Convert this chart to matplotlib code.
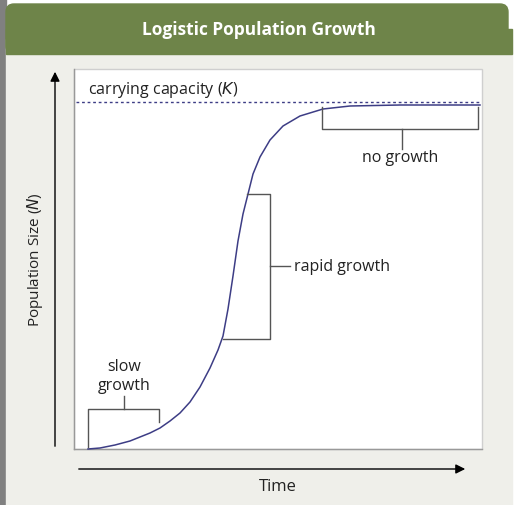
import matplotlib
matplotlib.use("Agg")
import matplotlib.pyplot as plt
from matplotlib.patches import FancyBboxPatch, Rectangle

plt.rcParams['font.family'] = ['Open Sans', 'DejaVu Sans']
title = "Logistic Population Growth"
# curve (pixel coordinates of the reference)
curve_x = [88, 100, 115, 130, 140, 150, 160, 170, 180, 190, 200, 210, 218, 223, 228, 233, 238, 243, 247, 253, 260, 270, 283, 300, 323, 350, 400, 480]
curve_y = [450, 449, 446, 442, 438, 434, 429, 422, 414, 403, 388, 369, 351, 337, 310, 277, 242, 215, 199, 175, 158, 141, 127, 117, 110, 107, 106, 106]
K_y = 103

fig = plt.figure(figsize=(5.14, 5.06), dpi=100)
ax = fig.add_axes([0, 0, 1, 1])
ax.set_xlim(0, 514); ax.set_ylim(506, 0); ax.axis("off")
fig.patch.set_facecolor("white")

ax.add_patch(Rectangle((0, 0), 6, 506, color="#808080", zorder=0))
ax.add_patch(Rectangle((6, 40), 506, 466, color="#efefea", zorder=0))
ax.add_patch(FancyBboxPatch((6, 5), 502, 50, boxstyle="round,pad=0,rounding_size=8", color="#6e8449", zorder=1))
ax.add_patch(Rectangle((6, 30), 506, 25, color="#6e8449", zorder=1))
ax.text(259, 30, title, color="white", fontsize=12.5, fontweight="bold", ha="center", va="center", zorder=2)

ax.add_patch(Rectangle((74, 70), 408, 380, facecolor="white", edgecolor="#cfcfcf", lw=1, zorder=1))
ax.plot([74, 482], [450, 450], color="#999999", lw=1, zorder=2)
ax.plot([74, 74], [70, 450], color="#999999", lw=1, zorder=2)

ax.plot(curve_x, curve_y, color="#3d3d85", lw=1.1, zorder=3, solid_joinstyle="round")
ax.plot([76, 480], [K_y, K_y], color="#3d3d85", lw=1, ls=(0, (2, 2)), zorder=3)
ax.text(88, 90, "carrying capacity ($\\it{K}$)", fontsize=11.5, va="center", color="#222222", zorder=4)

fs = 11.5
bc = "#555555"
def L(xs, ys):
    ax.plot(xs, ys, color=bc, lw=1, zorder=4)
L([88, 88, 159, 159], [448, 410, 410, 423]); L([124, 124], [410, 397])
ax.text(124, 367, "slow", fontsize=fs, ha="center", va="center", color="#222222")
ax.text(124, 386, "growth", fontsize=fs, ha="center", va="center", color="#222222")
L([247, 270, 270, 223], [195, 195, 340, 340]); L([270, 290], [267, 267])
ax.text(294, 267, "rapid growth", fontsize=fs, va="center", color="#222222")
L([322, 322, 478, 478], [108, 130, 130, 108]); L([402, 402], [130, 150])
ax.text(400, 158, "no growth", fontsize=fs, ha="center", va="center", color="#222222")

ax.annotate("", xy=(55, 70), xytext=(55, 450),
            arrowprops=dict(arrowstyle="-|>", color="black", lw=1, mutation_scale=14))
ax.annotate("", xy=(468, 470), xytext=(76, 470),
            arrowprops=dict(arrowstyle="-|>", color="black", lw=1, mutation_scale=14))
ax.text(278, 487, "Time", fontsize=12, ha="center", va="center", color="#222222")
ax.text(35, 260, "Population Size ($\\it{N}$)", fontsize=11, rotation=90, ha="center", va="center", color="#222222")

fig.savefig("out.png", dpi=100)
